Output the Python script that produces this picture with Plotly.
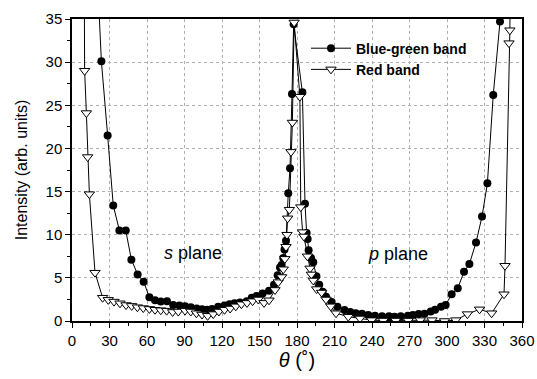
import plotly.graph_objects as go

# Blue-green band (filled circles)
bg_theta = [19, 23.5, 28.5, 33, 37.9, 43, 47.5, 52.5, 57.3, 61.9, 66.4, 71, 76, 81, 86, 90.4,
            95, 99.7, 104, 108, 112, 117, 122, 126, 130, 134.4, 139.8, 143.8, 147.7, 152.5,
            157.6, 161.6, 164.5, 166.4, 167.7, 169, 170, 171.2, 173, 174.4, 176, 177.3,
            184.3, 186.4, 187.7, 188.5, 189.3, 191.2, 193, 195.5, 197.8, 200.5, 203.2, 207.7,
            212.3, 218, 222.6, 227, 232, 237, 242.4, 248, 253.6, 258, 263, 268.7, 272.7, 277.3,
            282, 287, 290.5, 295.2, 298.9, 303.7, 308.6, 313.6, 317.9, 323.2, 328, 332.3, 337,
            342.4, 345]
bg_int = [44, 30.1, 21.5, 13.4, 10.5, 10.5, 7.1, 5.4, 4.55, 2.75, 2.4, 2.25, 2.3, 1.85, 1.8, 1.7,
          1.6, 1.45, 1.35, 1.3, 1.4, 1.65, 1.8, 1.95, 2.05, 2.15, 2.3, 2.7, 2.9, 3.2,
          3.5, 4.2, 5.3, 6.2, 6.5, 7.3, 8.3, 9.3, 14.8, 17.7, 26.3, 34.4,
          26.5, 13.6, 10.2, 9.5, 8.2, 7.3, 6.8, 5.2, 4.2, 3.4, 2.8, 2.2,
          1.66, 1.27, 1.05, 0.9, 0.85, 0.7, 0.6, 0.55, 0.55, 0.5, 0.55, 0.6, 0.7, 0.8,
          0.85, 1.1, 1.3, 1.66, 1.85, 3.1, 3.8, 5.7, 6.6, 9.1, 12.1, 15.95, 26.2,
          34.7, 48]

# Red band (open down-triangles)
red_theta = [9.5, 10.1, 11.5, 12.5, 13.9, 18.4, 24.5, 29, 33.6, 38.4, 43.2, 47.7, 52.3, 57, 61.9,
             66.4, 71, 75.7, 80.5, 85, 90.4, 95, 99.5, 104, 108.5, 113, 117.5, 122, 126.5, 131,
             135.5, 140, 144.5, 149, 153.6, 157.6, 162.4, 165, 167.7, 169, 170.3, 171.2, 172,
             172.5, 173.9, 175.2, 176.3, 177.7, 182.3, 183, 184.5, 185.5, 188.3, 190.4, 191.5,
             193, 195.7, 199.7, 203.2, 207, 211.2, 221, 230.4, 239.7, 249, 259, 269, 278.6, 288,
             298, 307, 316.3, 326, 335.7, 345.6, 346.4, 349.6, 350.3, 351]
red_int = [50, 29, 24.1, 19, 14.7, 5.6, 2.7, 2.45, 2.25, 2.05, 1.85, 1.75, 1.6, 1.5, 1.4,
           1.3, 1.25, 1.2, 1.05, 1.1, 1.2, 1.1, 0.9, 0.75, 0.6, 0.8, 1.1, 1.3, 1.45, 1.7,
           1.95, 2.1, 2.3, 2.5, 2.1, 2.4, 3.6, 4.5, 5.1, 6, 7.2, 8.6, 10,
           11.9, 12.9, 19.6, 23, 34.6, 26, 13.2, 10.3, 9.8, 7.5, 6.1, 5.4,
           4.7, 3.7, 3.3, 2.5, 1.7, 0.9, 0.5, 0.3, 0.1, 0.05, 0.05, 0.05, 0.1, 0.1,
           0.0, 0.1, 0.8, 1.35, 0.9, 3.1, 6.4, 32.2, 33.7, 48]

x_ticks = list(range(0, 361, 30))
y_ticks = list(range(0, 36, 5))

FONT = "Liberation Sans, Arial, sans-serif"

fig = go.Figure()
fig.add_trace(go.Scatter(
    x=bg_theta, y=bg_int, mode="lines+markers", name="<b>Blue-green band</b>",
    line=dict(color="black", width=1),
    marker=dict(symbol="circle", size=8, color="black"),
))
fig.add_trace(go.Scatter(
    x=red_theta, y=red_int, mode="lines+markers", name="<b>Red band</b>",
    line=dict(color="black", width=1),
    marker=dict(symbol="triangle-down", size=9, color="white",
                line=dict(color="black", width=1)),
))

axis_common = dict(
    showline=True, linecolor="black", linewidth=1.5, mirror=True,
    ticks="outside", ticklen=5, tickwidth=1, tickcolor="black",
    showgrid=True, gridcolor="#b0b0b0", griddash="dot", gridwidth=1,
    zeroline=False, automargin=False,
    tickfont=dict(family=FONT, size=15, color="black"),
)

fig.update_xaxes(
    range=[0, 360], tickvals=x_ticks, ticktext=[str(t) for t in x_ticks],
    minor=dict(ticks="outside", ticklen=3, dtick=15, tickcolor="black", showgrid=False),
    title=dict(text="<i>θ</i> (˚)", font=dict(family=FONT, size=20, color="black"), standoff=4),
    **axis_common,
)
fig.update_yaxes(
    range=[0, 35], tickvals=y_ticks, ticktext=[str(t) for t in y_ticks],
    minor=dict(ticks="outside", ticklen=3, dtick=2.5, tickcolor="black", showgrid=False),
    title=dict(text="Intensity (arb. units)", font=dict(family=FONT, size=16, color="black"), standoff=14),
    **axis_common,
)

fig.add_annotation(x=97, y=7.9, text="<i>s</i> plane", showarrow=False,
                   font=dict(family=FONT, size=18, color="black"))
fig.add_annotation(x=261, y=7.8, text="<i>p</i> plane", showarrow=False,
                   font=dict(family=FONT, size=18, color="black"))

fig.update_layout(
    width=537, height=379,
    margin=dict(l=72, r=15, t=19, b=58),
    plot_bgcolor="white", paper_bgcolor="white",
    showlegend=True,
    legend=dict(x=0.52, y=0.955, xanchor="left", yanchor="top",
                bgcolor="rgba(0,0,0,0)", font=dict(family=FONT, size=14, color="black"),
                itemwidth=40, tracegroupgap=0),
)

fig.write_html("out.html",
               config={"displayModeBar": False},
               post_script="document.body.style.margin='0';document.body.style.overflow='hidden';")
